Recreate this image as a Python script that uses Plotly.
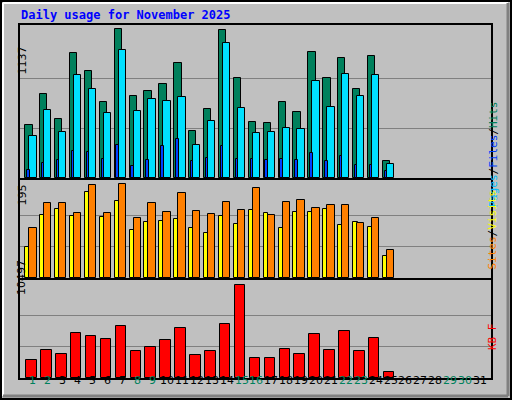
import plotly.graph_objects as go

days = list(range(1, 32))
hits = [406, 644, 452, 952, 814, 583, 1137, 629, 667, 714, 875, 359, 529, 1129, 760, 429, 423, 583, 506, 960, 760, 914, 683, 929, 129]
files = [321, 521, 352, 783, 683, 498, 975, 513, 606, 590, 621, 252, 436, 1029, 537, 344, 352, 383, 375, 744, 544, 791, 629, 783, 105]
pages = [59, 113, 136, 206, 198, 144, 252, 90, 136, 244, 298, 129, 152, 244, 144, 144, 140, 144, 140, 190, 130, 167, 100, 100, 52]
sites = [64, 132, 144, 130, 180, 127, 161, 100, 117, 119, 123, 104, 94, 130, 113, 142, 136, 104, 138, 138, 144, 111, 117, 106, 45]
visits = [104, 157, 157, 136, 193, 136, 195, 125, 157, 138, 178, 140, 134, 159, 142, 187, 132, 159, 163, 146, 153, 153, 115, 125, 58]
kbytes = [1992, 3141, 2682, 5095, 4750, 4406, 5785, 3027, 3486, 4291, 5670, 2567, 3027, 6015, 10497, 2222, 2222, 3256, 2682, 4980, 3141, 5325, 3027, 4521, 728]
weekend = [1, 2, 8, 9, 15, 16, 22, 23, 29, 30]
max_hits, max_visits, max_kb = 1137, 195, 10497

W, H = 512, 400
def px(x): return x / W
def py(y): return 1 - y / H

n = len(hits)
xd = days[:n]
line = dict(color="black", width=1)
fig = go.Figure()
fig.add_bar(x=xd, y=hits, width=0.49, offset=-0.52, marker=dict(color="#00805C", line=line), xaxis="x", yaxis="y")
fig.add_bar(x=xd, y=files, width=0.49, offset=-0.25, marker=dict(color="#00E0FF", line=line), xaxis="x", yaxis="y")
fig.add_bar(x=xd, y=pages, width=0.17, offset=-0.40, marker=dict(color="#0040FF", line=line), xaxis="x", yaxis="y")
fig.add_bar(x=xd, y=sites, width=0.30, offset=-0.52, marker=dict(color="#FFFF00", line=line), xaxis="x2", yaxis="y2")
fig.add_bar(x=xd, y=visits, width=0.49, offset=-0.25, marker=dict(color="#FF8000", line=line), xaxis="x2", yaxis="y2")
fig.add_bar(x=xd, y=kbytes, width=0.70, offset=-0.45, marker=dict(color="#FF0000", line=line), xaxis="x3", yaxis="y3")

xr = [0.128, 31.74]
xdom = [px(20), px(491)]
def xa(anchor):
    return dict(range=xr, domain=xdom, anchor=anchor, showticklabels=False, showgrid=False, zeroline=False,
                showline=True, linecolor="black", mirror=True, linewidth=2, fixedrange=True)
def ya(mx, top, dom, anchor):
    return dict(range=[0, top], domain=dom, anchor=anchor, tickvals=[mx / 3, 2 * mx / 3], showticklabels=False,
                gridcolor="#808080", gridwidth=1, zeroline=False, showline=True, linecolor="black",
                mirror=True, linewidth=2, ticks="")

fig.update_layout(
    width=W, height=H, margin=dict(l=0, r=0, t=0, b=0),
    paper_bgcolor="#C0C0C0", plot_bgcolor="#C0C0C0", showlegend=False, barmode="overlay",
    bargap=0,
    xaxis=xa("y"), xaxis2=xa("y2"), xaxis3=xa("y3"),
    yaxis=ya(max_hits, max_hits * 151.7 / 147.7, [py(178), py(25)], "x"),
    yaxis2=ya(max_visits, max_visits * 96.7 / 92.3, [py(278), py(180)], "x2"),
    yaxis3=ya(max_kb, max_kb * 95.7 / 91.3, [py(378), py(280)], "x3"),
)

ann = []
ann.append(dict(x=px(19), y=py(15), xref="paper", yref="paper", text="<b>Daily usage for November 2025</b>",
                showarrow=False, xanchor="left", yanchor="middle",
                font=dict(family="DejaVu Sans Mono", size=12, color="#0000FF")))
for label, yc in [(str(max_hits), 45), (str(max_visits), 195), (str(max_kb), 297)]:
    ann.append(dict(x=px(13), y=py(yc), xref="paper", yref="paper", text=label, textangle=-90, showarrow=False,
                    font=dict(family="DejaVu Sans", size=11, color="black")))
for d in days:
    ann.append(dict(x=d, y=py(389), xref="x3", yref="paper", text=str(d), showarrow=False,
                    font=dict(family="DejaVu Sans", size=11, color="#00805C" if d in weekend else "black")))
mono = dict(family="DejaVu Sans Mono", size=11)
ann.append(dict(x=px(501), y=py(100), xref="paper", yref="paper", textangle=-90, showarrow=False,
                text="<span style='color:#00C0FF'>Pages</span>/<span style='color:#0040FF'>Files</span>/<span style='color:#00805C'>Hits</span>",
                font=dict(**mono, color="black")))
ann.append(dict(x=px(501), y=py(230), xref="paper", yref="paper", textangle=-90, showarrow=False,
                text="<span style='color:#FF8000'>Sites</span>/<span style='color:#FFFF00'>Visits</span>",
                font=dict(**mono, color="black")))
ann.append(dict(x=px(501), y=py(352), xref="paper", yref="paper", textangle=-90, showarrow=False,
                text="<span style='color:#FF0000'>KB F</span>", font=dict(**mono, color="black")))
fig.update_layout(annotations=ann)

shapes = [
    dict(type="rect", xref="paper", yref="paper", x0=px(1), y0=py(399), x1=px(511), y1=py(1),
         line=dict(color="black", width=2)),
    dict(type="line", xref="paper", yref="paper", x0=px(3), y0=py(3), x1=px(508), y1=py(3),
         line=dict(color="white", width=2)),
    dict(type="line", xref="paper", yref="paper", x0=px(3), y0=py(3), x1=px(3), y1=py(396),
         line=dict(color="white", width=2)),
    dict(type="line", xref="paper", yref="paper", x0=px(3), y0=py(396), x1=px(508), y1=py(396),
         line=dict(color="#808080", width=3)),
    dict(type="line", xref="paper", yref="paper", x0=px(508), y0=py(3), x1=px(508), y1=py(396),
         line=dict(color="#808080", width=3)),
]
fig.update_layout(shapes=shapes)
fig.write_html("out.html", config={"displayModeBar": False})
with open("out.html", encoding="utf-8") as f:
    html = f.read()
html = html.replace("<head>", "<head><style>html,body{margin:0;padding:0;overflow:hidden;}</style>", 1)
with open("out.html", "w", encoding="utf-8") as f:
    f.write(html)
